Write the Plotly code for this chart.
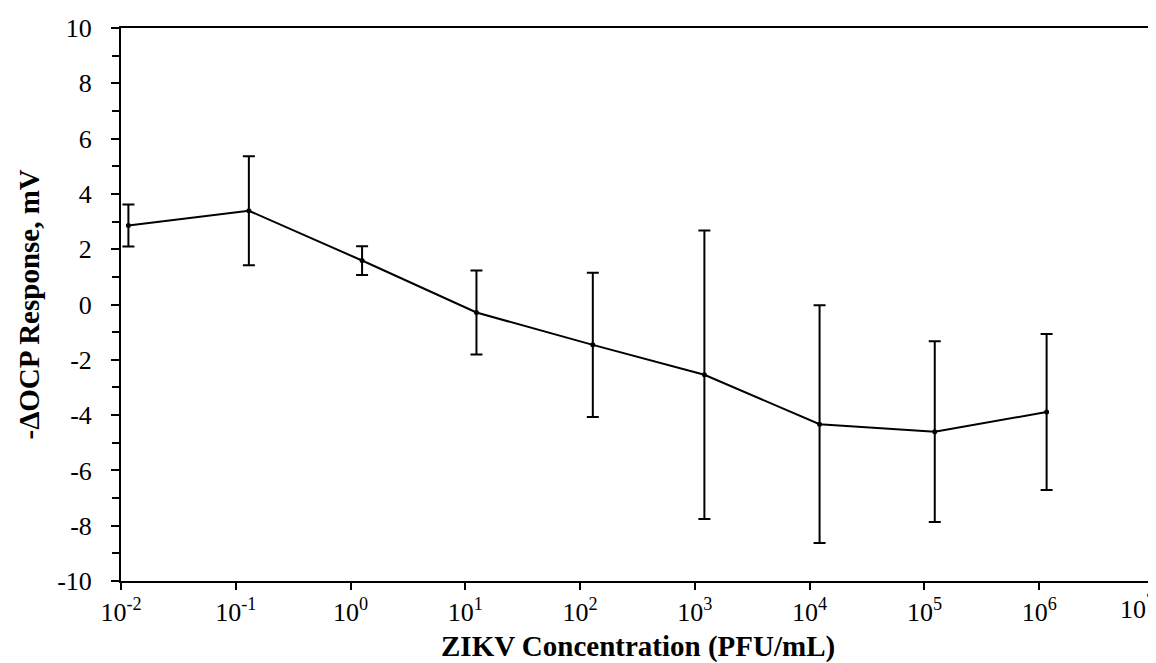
import plotly.graph_objects as go

concentration = [0.0116, 0.13, 1.26, 12.5, 129, 1210, 12200, 123000, 1160000]
response = [2.86, 3.39, 1.59, -0.29, -1.46, -2.54, -4.33, -4.60, -3.89]
error = [0.76, 1.97, 0.52, 1.52, 2.61, 5.22, 4.30, 3.27, 2.82]

x_tick_vals = [1e-2, 1e-1, 1e0, 1e1, 1e2, 1e3, 1e4, 1e5, 1e6, 1e7]
x_tick_text = ["10<sup>-2</sup>", "10<sup>-1</sup>", "10<sup>0</sup>", "10<sup>1</sup>",
               "10<sup>2</sup>", "10<sup>3</sup>", "10<sup>4</sup>", "10<sup>5</sup>",
               "10<sup>6</sup>", ""]
last_x_label = "10<sup>7</sup>"
y_tick_vals = [-10, -8, -6, -4, -2, 0, 2, 4, 6, 8, 10]
y_tick_text = ["-10", "-8", "-6", "-4", "-2", "0", "2", "4", "6", "8", "10"]

font_family = "Liberation Serif, Times New Roman, serif"

fig = go.Figure()
fig.add_trace(go.Scatter(
    x=concentration, y=response,
    mode="lines+markers",
    line=dict(color="black", width=2),
    marker=dict(color="black", size=5),
    error_y=dict(type="data", array=error, visible=True, color="black", thickness=2, width=6),
    showlegend=False,
))

fig.update_layout(
    width=1156, height=663,
    margin=dict(l=113, r=10, t=20, b=90, autoexpand=False),
    paper_bgcolor="white", plot_bgcolor="white",
    font=dict(family=font_family, color="black", size=26),
    xaxis=dict(
        type="log", range=[-2.0001, 7.0001],
        tickvals=x_tick_vals, ticktext=x_tick_text,
        ticks="outside", ticklen=7, tickwidth=2, tickcolor="black",
        showline=True, linecolor="black", linewidth=2, mirror=True,
        showgrid=False, zeroline=False,
        tickfont=dict(family=font_family, size=26),
    ),
    yaxis=dict(
        range=[-10, 10], tickvals=y_tick_vals, ticktext=y_tick_text,
        ticks="outside", ticklen=8, tickwidth=2, tickcolor="black",
        minor=dict(dtick=1, ticks="outside", ticklen=7, tickwidth=2, tickcolor="black", showgrid=False),
        showline=True, linecolor="black", linewidth=2, mirror=True,
        showgrid=False, zeroline=False, ticklabelstandoff=14,
        tickfont=dict(family=font_family, size=26),
    ),
    annotations=[
        dict(text=last_x_label, xref="paper", yref="paper",
             x=1, y=0, xanchor="right", yanchor="top", xshift=3, yshift=-8,
             showarrow=False, font=dict(family=font_family, size=26)),
        dict(text="<b>ZIKV Concentration (PFU/mL)</b>", xref="paper", yref="paper",
             x=0.5, y=-0.1183, xanchor="center", yanchor="middle", showarrow=False,
             font=dict(family=font_family, size=29)),
        dict(text="<b>-ΔOCP Response, mV</b>", xref="paper", yref="paper",
             x=-0.09, y=0.5, xanchor="center", yanchor="middle", showarrow=False,
             textangle=-90, font=dict(family=font_family, size=29)),
    ],
)

fig.write_html("out.html")
